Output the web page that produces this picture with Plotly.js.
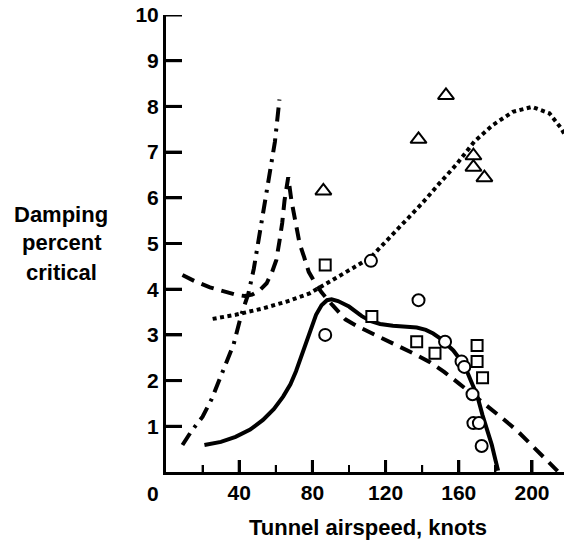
<!DOCTYPE html>
<html>
<head>
<meta charset="utf-8">
<script src="https://cdn.plot.ly/plotly-3.0.1.min.js"></script>
<style>html,body{margin:0;padding:0;background:#fff;}#chart{width:564px;height:544px;}</style>
</head>
<body>
<div id="chart"></div>
<script>
// Solid curve
const solidX = [21, 30, 38, 46, 53, 59, 64, 68, 71, 75, 78.5, 82, 85, 88, 90.5, 94, 100, 107, 112, 117, 124, 131, 137, 142, 146, 150, 154, 157, 160, 164, 167, 170, 173, 175.5, 178, 180, 181.5];
const solidY = [0.59, 0.66, 0.77, 0.93, 1.14, 1.38, 1.65, 1.92, 2.2, 2.65, 3.08, 3.44, 3.65, 3.76, 3.78, 3.74, 3.62, 3.41, 3.3, 3.24, 3.2, 3.18, 3.16, 3.11, 3.03, 2.92, 2.78, 2.66, 2.5, 2.25, 1.96, 1.68, 1.24, 0.93, 0.6, 0.27, 0.03];
// Dashed curve
const dashX = [9, 16, 24, 32, 38, 43, 47, 51, 55, 58, 60.3, 62, 63.5, 64.8, 66, 66.8, 68.5, 70.5, 73, 75.5, 78, 81, 85, 91, 98, 105, 112, 120, 128, 136, 144, 152, 160, 168, 176, 184, 192, 200, 207, 214];
const dashY = [4.31, 4.17, 4.04, 3.94, 3.88, 3.85, 3.88, 3.97, 4.13, 4.38, 4.64, 5.05, 5.45, 5.95, 6.35, 6.45, 5.95, 5.5, 5.0, 4.7, 4.38, 4.17, 3.93, 3.65, 3.34, 3.18, 3.05, 2.9, 2.74, 2.58, 2.41, 2.19, 1.94, 1.69, 1.43, 1.17, 0.9, 0.57, 0.29, 0.02];
// Dash-dot curve
const dashDotX = [9, 14, 20, 25, 29, 33, 37, 41, 45, 48, 51, 54, 57, 59.5, 62];
const dashDotY = [0.59, 0.9, 1.21, 1.6, 2.0, 2.38, 2.8, 3.42, 3.9, 4.45, 5.2, 5.83, 6.6, 7.22, 8.15];
// Dotted curve
const dotX = [25.5, 38, 53, 66, 78.5, 88, 96, 102, 112, 120, 131, 140, 149.5, 158.5, 168.5, 178.5, 189.5, 200, 209.5, 216, 219];
const dotY = [3.35, 3.44, 3.58, 3.73, 3.91, 4.13, 4.3, 4.46, 4.7, 5.04, 5.51, 5.88, 6.32, 6.72, 7.23, 7.59, 7.88, 7.99, 7.85, 7.52, 7.3];
// Data points
const circleX = [87, 112, 138, 152.5, 161.5, 163, 167.5, 168, 171, 172.5];
const circleY = [3.0, 4.62, 3.76, 2.85, 2.42, 2.3, 1.7, 1.07, 1.07, 0.57];
const squareX = [87, 112.5, 137, 147, 170, 170, 173];
const squareY = [4.53, 3.4, 2.85, 2.6, 2.77, 2.42, 2.06];
const triX = [86, 138, 153, 168, 168, 174];
const triY = [6.15, 7.28, 8.24, 6.92, 6.67, 6.44];
// Tick labels
const xTickVals = [40, 80, 120, 160, 200];
const xTickText = ['40', '80', '120', '160', '200'];
const xMinorVals = [20, 60, 100, 140, 180];
const yTickVals = [1, 2, 3, 4, 5, 6, 7, 8, 9, 10];
const yTickText = ['1', '2', '3', '4', '5', '6', '7', '8', '9', '10'];
const xTitle = 'Tunnel airspeed, knots';
const yTitleLines = ['Damping', 'percent', 'critical'];

const FONT = 'Liberation Sans, Arial, Helvetica, sans-serif';
const X_RANGE = [0, 217.5];
const Y_RANGE = [0, 10];
const PLOT_W = 398, PLOT_H = 457; // plot area size in px (from margins)
const line = (x, y, dash) => ({x, y, type: 'scatter', mode: 'lines', hoverinfo: 'skip', showlegend: false,
  line: {color: '#000', width: 4, dash: dash}});
const pts = (x, y, sym, size) => ({x, y, type: 'scatter', mode: 'markers', showlegend: false,
  marker: {symbol: sym, size: size, color: '#fff', line: {color: '#000', width: 2}}});

// Inside tick marks as segments: length converted from pixels to axis units
const yUnitsPerPx = (Y_RANGE[1] - Y_RANGE[0]) / PLOT_H;
const xUnitsPerPx = (X_RANGE[1] - X_RANGE[0]) / PLOT_W;
function xTickSegs(vals, lenPx) {
  const xs = [], ys = [];
  vals.forEach(v => { xs.push(v, v, null); ys.push(0, lenPx * yUnitsPerPx, null); });
  return [xs, ys];
}
function yTickSegs(vals, lenPx) {
  const xs = [], ys = [];
  vals.forEach(v => { xs.push(0, lenPx * xUnitsPerPx, null); ys.push(v, v, null); });
  return [xs, ys];
}
const tickTrace = (segs, w) => ({x: segs[0], y: segs[1], type: 'scatter', mode: 'lines', hoverinfo: 'skip',
  showlegend: false, connectgaps: false, line: {color: '#000', width: w}});

const traces = [
  tickTrace(xTickSegs(xTickVals, 12), 3),
  tickTrace(xTickSegs(xMinorVals, 7), 2),
  tickTrace(yTickSegs(yTickVals, 16), 3),
  line(dotX, dotY, '4px,3.5px'),
  line(dashDotX, dashDotY, '14px,7px,3px,7px'),
  line(dashX, dashY, '13px,8px'),
  line(solidX, solidY, 'solid'),
  pts(squareX, squareY, 'square', 11),
  pts(circleX, circleY, 'circle', 12),
  pts(triX, triY, 'triangle-up', 14)
];

const px2paperX = p => (p - 166) / PLOT_W;
const px2paperY = p => (472 - p) / PLOT_H;

const annotations = [
  {text: '0', x: px2paperX(152.5), y: px2paperY(493.5)},
  {text: yTitleLines[0], x: px2paperX(61), y: px2paperY(214), size: 22},
  {text: yTitleLines[1], x: px2paperX(62), y: px2paperY(242), size: 22},
  {text: yTitleLines[2], x: px2paperX(62), y: px2paperY(272), size: 22},
  {text: xTitle, x: px2paperX(367.5), y: px2paperY(527), size: 22}
].map(a => ({text: a.text, x: a.x, y: a.y, xref: 'paper', yref: 'paper', xanchor: 'center', yanchor: 'middle',
  showarrow: false, font: {family: FONT, size: a.size || 21, color: '#000', weight: 'bold'}}));

const layout = {
  width: 564, height: 544,
  margin: {l: 166, r: 0, t: 15, b: 72, pad: 0},
  paper_bgcolor: '#fff', plot_bgcolor: '#fff',
  showlegend: false,
  xaxis: {range: X_RANGE, showgrid: false, zeroline: false, showline: true, linecolor: '#000', linewidth: 3,
    ticks: 'inside', ticklen: 12, tickwidth: 3, tickcolor: '#000', tickmode: 'array', tickvals: xTickVals, ticktext: xTickText,
    minor: {tickmode: 'linear', tick0: 0, dtick: 20, ticks: 'inside', ticklen: 7, tickwidth: 2, tickcolor: '#000', showgrid: false},
    tickfont: {family: FONT, size: 21, color: '#000', weight: 'bold'}, fixedrange: true},
  yaxis: {range: Y_RANGE, showgrid: false, zeroline: false, showline: true, linecolor: '#000', linewidth: 3,
    ticks: 'inside', ticklen: 16, tickwidth: 3, tickcolor: '#000', tickmode: 'array', tickvals: yTickVals, ticktext: yTickText,
    tickfont: {family: FONT, size: 21, color: '#000', weight: 'bold'}, fixedrange: true},
  annotations: annotations
};

Plotly.newPlot('chart', traces, layout, {displayModeBar: false, staticPlot: true});
</script>
</body>
</html>
